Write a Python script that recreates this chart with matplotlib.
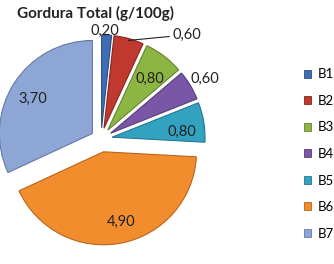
import numpy as np
import matplotlib
matplotlib.use("Agg")
import matplotlib.pyplot as plt
from matplotlib.patches import Patch

categories = ["B1", "B2", "B3", "B4", "B5", "B6", "B7"]
values = [0.20, 0.60, 0.80, 0.60, 0.80, 4.90, 3.70]
value_labels = ["0,20", "0,60", "0,80", "0,60", "0,80", "4,90", "3,70"]
title = "Gordura Total (g/100g)"

colors = ["#3E6DB4", "#C0392F", "#8DB543", "#7A57A6", "#33A2C0", "#F28D2E", "#8EA6D6"]
edges = ["#2A4E85", "#8A2420", "#64832C", "#553C77", "#237790", "#B8651C", "#6379A6"]
explode = [0.12, 0.12, 0.12, 0.12, 0.12, 0.14, 0.11]

plt.rcParams['font.family'] = ['Lato', 'DejaVu Sans']

W, H = 334, 264
fig = plt.figure(figsize=(W / 100, H / 100), dpi=100)
ax = fig.add_axes([0, 0, 1, 1])
scale = 93.0
cx, cy = 101.0, 139.0

wedges, _ = ax.pie(values, colors=colors, explode=explode, startangle=90,
                   counterclock=False, radius=1.0,
                   wedgeprops=dict(linewidth=0.8))
for w, ec in zip(wedges, edges):
    w.set_edgecolor(ec)

ax.set_aspect('auto')
ax.set_xlim(-cx / scale, (W - cx) / scale)
ax.set_ylim(-(H - cy) / scale, cy / scale)
ax.axis('off')

# label placement: (radius, angle offset from wedge mid) per wedge
label_r = [1.16, None, 0.83, 1.29, 0.87, 0.92, 0.85]
label_da = [1, 0, -2, -1, -4.5, 3, 2]
for i, w in enumerate(wedges):
    mid = np.deg2rad((w.theta1 + w.theta2) / 2.0)
    if label_r[i] is None:
        ex, ey = 1.1 * np.cos(mid), 1.1 * np.sin(mid)
        ax.annotate(value_labels[i], xy=(ex, ey), xytext=(ex + 0.47, ey + 0.06),
                    ha='left', va='center', fontsize=10.5, color='#222222',
                    arrowprops=dict(arrowstyle='-', color='#222222', lw=0.8,
                                    shrinkA=0, shrinkB=0))
    else:
        a = mid + np.deg2rad(label_da[i])
        ax.text(label_r[i] * np.cos(a), label_r[i] * np.sin(a), value_labels[i],
                ha='center', va='center', fontsize=10.5, color='#222222')

fig.text(17 / W, 1 - 13 / H, title, fontsize=11, fontweight='bold',
         ha='left', va='center', color='#222222')

handles = [Patch(facecolor=c, edgecolor=e, linewidth=0.6) for c, e in zip(colors, edges)]
fig.legend(handles, categories, loc='center left', bbox_to_anchor=(304 / W, 1 - 154 / H),
           frameon=False, fontsize=9.5, handlelength=0.55, handleheight=0.55,
           handletextpad=0.5, labelspacing=1.1, borderpad=0, borderaxespad=0)

fig.savefig("out.png", dpi=100)
